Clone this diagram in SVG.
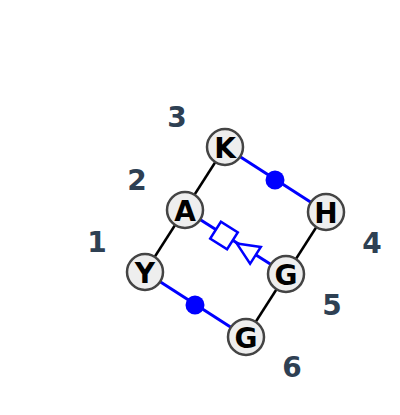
<svg xmlns="http://www.w3.org/2000/svg" width="400" height="415" viewBox="0 0 400 415">
<style>
.n circle{fill:#eeeeee;stroke:#444444;stroke-width:2.5}
.n text{font-family:"DejaVu Sans",sans-serif;font-weight:bold;font-size:28px;fill:#000;text-anchor:middle;dominant-baseline:central}
.lbl{font-family:"DejaVu Sans",sans-serif;font-weight:bold;font-size:28px;fill:#2e4053;text-anchor:middle;dominant-baseline:central}
.k{stroke:#000;stroke-width:2.5}
.b{stroke:#0000ff;stroke-width:3;fill:none}
.dot{fill:#0000ff}
.sym{fill:#fff;stroke:#0000ff;stroke-width:2.5}
</style>
<rect width="400" height="415" fill="#fff"/>
<g id="connectors">
<line class="k" x1="145" y1="272" x2="225" y2="147"/>
<line class="k" x1="326" y1="212" x2="246" y2="337"/>
<line class="b" x1="225" y1="147" x2="326" y2="212"/>
<circle class="dot" cx="275" cy="180" r="9.5"/>
<line class="b" x1="145" y1="272" x2="246" y2="337"/>
<circle class="dot" cx="195" cy="305" r="9.5"/>
<line class="b" x1="185" y1="210" x2="286" y2="274"/>
<g transform="translate(224,235.5) rotate(32.4)">
<rect class="sym" x="-10" y="-10" width="20" height="20"/>
</g>
<g transform="translate(247,250) rotate(32.4)">
<polygon class="sym" points="-12,0 10,-10 10,10"/>
</g>
</g>
<g id="node-K" class="n"><circle cx="225" cy="147" r="18"/><text x="225" y="148">K</text></g>
<g id="node-A" class="n"><circle cx="185" cy="210" r="18"/><text x="185" y="211">A</text></g>
<g id="node-Y" class="n"><circle cx="145" cy="272" r="18"/><text x="145" y="273">Y</text></g>
<g id="node-H" class="n"><circle cx="326" cy="212" r="18"/><text x="326" y="213">H</text></g>
<g id="node-G1" class="n"><circle cx="286" cy="274" r="18"/><text x="286" y="275">G</text></g>
<g id="node-G2" class="n"><circle cx="246" cy="337" r="18"/><text x="246" y="338">G</text></g>
<g id="labels">
<text class="lbl" x="177" y="117">3</text>
<text class="lbl" x="137" y="180">2</text>
<text class="lbl" x="97" y="242">1</text>
<text class="lbl" x="372" y="243">4</text>
<text class="lbl" x="332" y="305">5</text>
<text class="lbl" x="292" y="367">6</text>
</g>
</svg>
